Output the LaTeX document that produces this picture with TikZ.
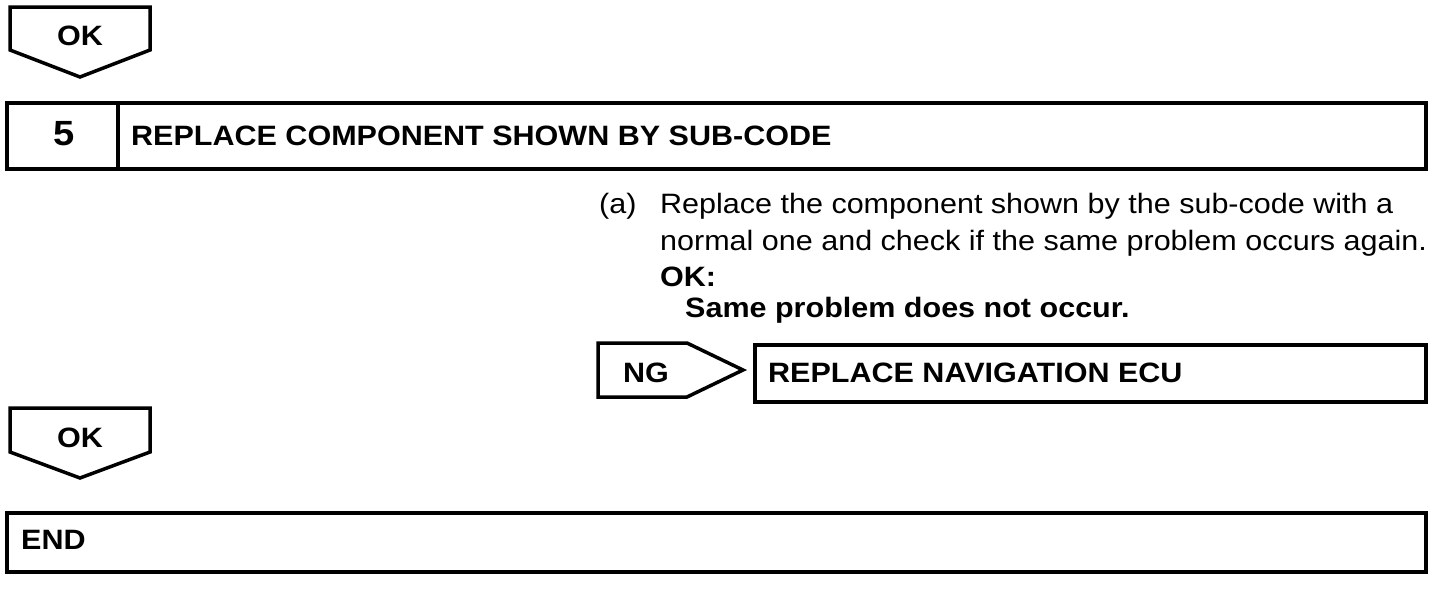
\documentclass[tikz,border=0pt]{standalone}
\usepackage{fontspec}
\setmainfont{Liberation Sans}[FakeStretch=1.09]
\begin{document}
\begin{tikzpicture}[x=1pt,y=-1pt,
  shape line/.style={draw=black,line width=3.5pt,line join=miter},
  head/.style={font=\fontsize{28}{34}\selectfont\bfseries,inner sep=0pt,anchor=base west},
  body/.style={font=\fontsize{28}{34}\selectfont,inner sep=0pt,anchor=base west},
  ctr/.style={font=\fontsize{28}{34}\selectfont\bfseries,inner sep=0pt,anchor=base}]
\useasboundingbox (0,0) rectangle (1456,590);
% OK arrow 1
\draw[shape line] (10,7) -- (150,7) -- (150,50) -- (80,77) -- (10,50) -- cycle;
\node[ctr] (ok1) at (80,45) {OK};
% step 5 box
\draw[shape line] (7,103) rectangle (1426,169);
\draw[shape line] (118,103) -- (118,169);
\node[ctr,font=\fontsize{35}{40}\selectfont\bfseries] (n5) at (64,145) {5};
\node[head] (t5) at (131,145) {REPLACE COMPONENT SHOWN BY SUB-CODE};
% body text
\node[body] (a) at (599,213) {(a)};
\node[body] (l1) at (660,213) {Replace the component shown by the sub-code with a};
\node[body] (l2) at (660,250) {normal one and check if the same problem occurs again.};
\node[head] (l3) at (660,286) {OK:};
\node[head] (l4) at (685,317) {Same problem does not occur.};
% NG arrow
\draw[shape line] (598,343) -- (687,343) -- (743,370) -- (687,397) -- (598,397) -- cycle;
\node[head] (ng) at (623,382) {NG};
\draw[shape line] (755,345) rectangle (1426,402);
\node[head] (ecu) at (768,382) {REPLACE NAVIGATION ECU};
% OK arrow 2
\draw[shape line] (10,408) -- (150,408) -- (150,452) -- (80,478) -- (10,452) -- cycle;
\node[ctr] (ok2) at (80,447) {OK};
% END box
\draw[shape line] (7,513) rectangle (1426,572);
\node[head] (end) at (21,549) {END};
\end{tikzpicture}
\end{document}
